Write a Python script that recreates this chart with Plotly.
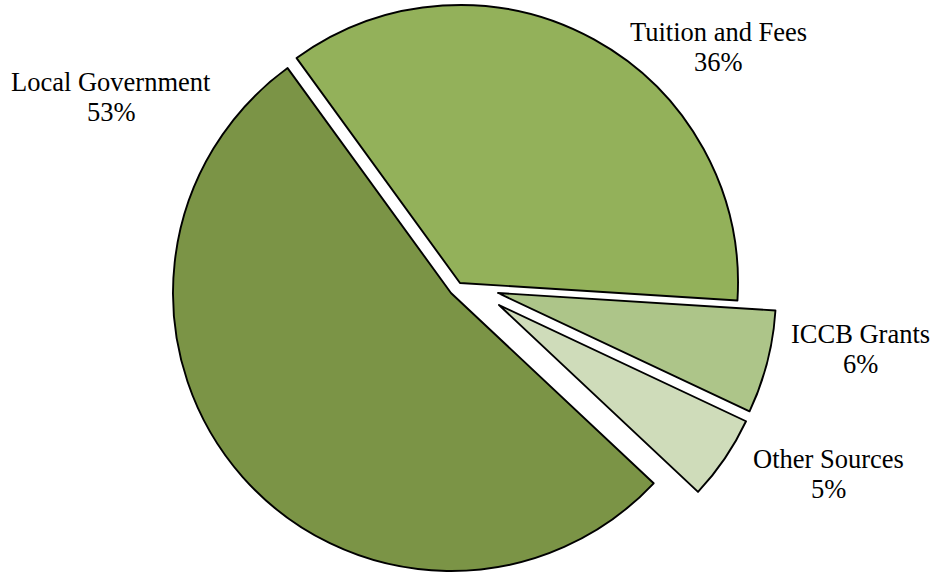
import plotly.graph_objects as go

# ---- data ----
labels = ["Tuition and Fees", "ICCB Grants", "Other Sources", "Local Government"]
values = [36, 6, 5, 53]
pct_text = ["36%", "6%", "5%", "53%"]

# ---- style ----
colors = ["#93B15A", "#ADC589", "#CFDCBA", "#7B9446"]
W, H = 935, 578
R = 278                       # pie radius in px
ROT = -36                     # first slice start angle (deg, clockwise from 12 o'clock)
# apex (exploded centre) of each slice, in px from top-left
apex = [(460, 283), (498, 293), (499, 305), (451, 293)]
# label positions: centre x, middle y of name line, middle y of percent line (px)
label_pos = [(718, 32, 62), (860, 334, 364), (828, 459, 488.5), (111, 82, 112)]

FONT = dict(family="Liberation Serif, Times New Roman, serif", size=26.5, color="black")
n = len(values)

fig = go.Figure()
for i, (cx, cy) in enumerate(apex):
    r = min(R, cx, W - cx, cy, H - cy)
    fig.add_trace(go.Pie(
        labels=labels,
        values=values,
        sort=False,
        direction="clockwise",
        rotation=ROT,
        textinfo="none",
        hoverinfo="label+percent",
        showlegend=False,
        marker=dict(
            colors=[colors[j] if j == i else "rgba(0,0,0,0)" for j in range(n)],
            line=dict(
                color=["black" if j == i else "rgba(0,0,0,0)" for j in range(n)],
                width=[1.9 if j == i else 0 for j in range(n)],
            ),
        ),
        domain=dict(
            x=[(cx - r) / W, (cx + r) / W],
            y=[max(0, 1 - (cy + r) / H), min(1, 1 - (cy - r) / H)],
        ),
    ))

annotations = []
for i in range(n):
    x, y1, y2 = label_pos[i]
    for txt, yy in ((labels[i], y1), (pct_text[i], y2)):
        annotations.append(dict(
            text=txt, x=x / W, y=1 - yy / H, xref="paper", yref="paper",
            xanchor="center", yanchor="middle", showarrow=False, font=FONT,
        ))

fig.update_layout(
    width=W, height=H,
    margin=dict(l=0, r=0, t=0, b=0),
    paper_bgcolor="white", plot_bgcolor="white",
    annotations=annotations,
)

fig.write_html("out.html")
